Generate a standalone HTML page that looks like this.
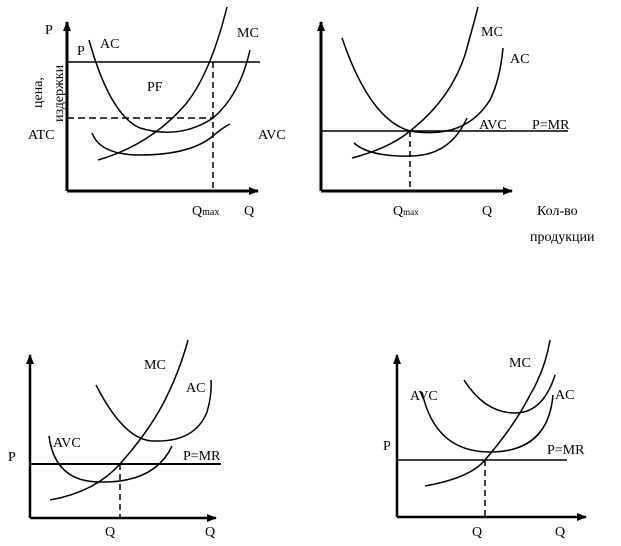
<!DOCTYPE html>
<html><head><meta charset="utf-8"><style>
html,body{margin:0;padding:0;background:#fff;overflow:hidden;}
svg{display:block;}
text{font-family:"Liberation Serif","DejaVu Serif",serif;font-size:14px;fill:#000;}
</style></head><body>
<svg width="621" height="546" viewBox="0 0 621 546" xmlns="http://www.w3.org/2000/svg">
<defs><marker id="ar" markerWidth="10" markerHeight="8" refX="9" refY="4" orient="auto" markerUnits="userSpaceOnUse"><path d="M0,0 L10,4 L0,8 Z" fill="#000"/></marker></defs>
<g fill="none" stroke="#000" stroke-width="1.5">
<!-- Chart 1 -->
<path d="M67,191 L67,22" stroke-width="3" marker-end="url(#ar)"/>
<path d="M67,191 L258,191" stroke-width="3" marker-end="url(#ar)"/>
<path d="M67,62 L260,62"/>
<path d="M67,118 L213,118" stroke-dasharray="7,4"/>
<path d="M213,62 L213,191" stroke-dasharray="6,4"/>
<path d="M98,160 Q150,145 185,105 Q210,75 227,7"/>
<path d="M89,40 Q110,115 140,128 Q180,140 213,118 Q240,95 250,50"/>
<path d="M92,133 Q100,155 140,155 Q190,155 213,136 Q222,128 230,124"/>
<!-- Chart 2 -->
<path d="M321,191 L321,22" stroke-width="3" marker-end="url(#ar)"/>
<path d="M321,191 L512,191" stroke-width="3" marker-end="url(#ar)"/>
<path d="M321,131 L568,131"/>
<path d="M410,131 L410,191" stroke-dasharray="6,4"/>
<path d="M352,158 Q390,148 410,131 Q450,100 465,55 Q472,30 478,7"/>
<path d="M342,38 Q370,120 410,131 Q465,140 490,100 Q500,80 503,48"/>
<path d="M354,143 Q370,157 410,156 Q450,156 467,118"/>
<!-- Chart 3 -->
<path d="M30,518 L30,355" stroke-width="2.5" marker-end="url(#ar)"/>
<path d="M30,518 L216,518" stroke-width="2.5" marker-end="url(#ar)"/>
<path d="M30,464 L221,464" stroke-width="2"/>
<path d="M120,464 L120,518" stroke-dasharray="6,4"/>
<path d="M50,500 Q95,492 120,464 Q150,430 165,400 Q180,370 188,340"/>
<path d="M96,385 Q125,442 155,441 Q195,442 207,412 Q212,395 211,380"/>
<path d="M49,436 Q55,482 100,482 Q155,483 172,446"/>
<!-- Chart 4 -->
<path d="M397,517 L397,355" stroke-width="2.5" marker-end="url(#ar)"/>
<path d="M397,517 L586,517" stroke-width="2.5" marker-end="url(#ar)"/>
<path d="M397,460 L567,460"/>
<path d="M485,460 L485,517" stroke-dasharray="6,4"/>
<path d="M425,486 Q470,478 485,460 Q515,425 530,395 Q545,370 550,340"/>
<path d="M464,380 Q485,413 515,413 Q543,413 555,375"/>
<path d="M422,392 Q435,452 490,452 Q548,452 553,395"/>
</g>
<!-- labels chart 1 -->
<text x="45" y="34">P</text>
<text x="77" y="55">P</text>
<text x="100" y="48">AC</text>
<text x="237" y="37">MC</text>
<text x="147" y="91">PF</text>
<text x="28" y="139">ATC</text>
<text x="258" y="139">AVC</text>
<text x="192" y="215">Q<tspan font-size="10">max</tspan></text>
<text x="244" y="215">Q</text>
<text transform="translate(42,108) rotate(-90)">цена,</text>
<text transform="translate(63,122) rotate(-90)">издержки</text>
<!-- labels chart 2 -->
<text x="481" y="36">MC</text>
<text x="510" y="63">AC</text>
<text x="479" y="129">AVC</text>
<text x="532" y="129">P=MR</text>
<text x="393" y="215">Q<tspan font-size="9">max</tspan></text>
<text x="482" y="215">Q</text>
<text x="537" y="215">Кол-во</text>
<text x="530" y="241">продукции</text>
<!-- labels chart 3 -->
<text x="144" y="369">MC</text>
<text x="186" y="392">AC</text>
<text x="53" y="447">AVC</text>
<text x="183" y="460">P=MR</text>
<text x="8" y="461">P</text>
<text x="105" y="536">Q</text>
<text x="205" y="536">Q</text>
<!-- labels chart 4 -->
<text x="509" y="367">MC</text>
<text x="555" y="399">AC</text>
<text x="410" y="400">AVC</text>
<text x="547" y="454">P=MR</text>
<text x="383" y="450">P</text>
<text x="472" y="536">Q</text>
<text x="555" y="536">Q</text>
</svg>
</body></html>
